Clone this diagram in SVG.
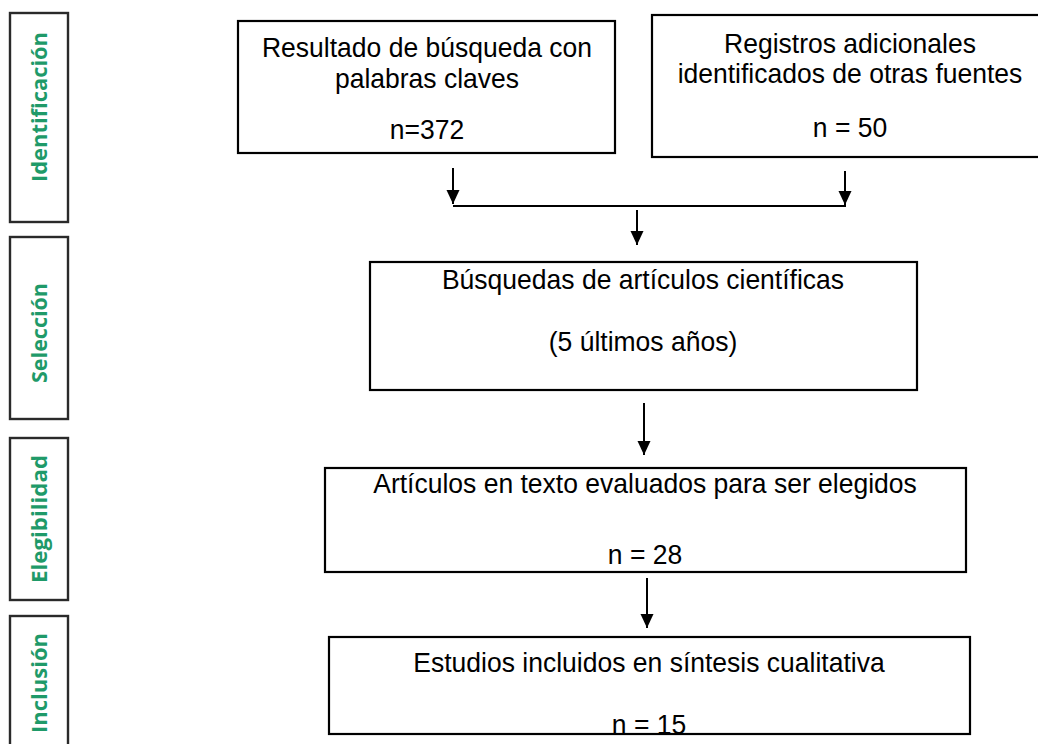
<svg xmlns="http://www.w3.org/2000/svg" width="1038" height="744" viewBox="0 0 1038 744">
<style>
.box{fill:#fff;stroke:#000;stroke-width:2.2}
.lbl{fill:#fff;stroke:#2a2a2a;stroke-width:2.4}
.t{font-family:"Liberation Sans",Arial,sans-serif;font-size:28.5px;fill:#000;text-anchor:middle}
.g{font-family:"Open Sans","DejaVu Sans",sans-serif;font-weight:700;font-size:22px;fill:#1f9a69;text-anchor:middle}
.c{stroke:#000;stroke-width:2;fill:none}
</style>
<defs>
<marker id="ah" markerUnits="userSpaceOnUse" markerWidth="14" markerHeight="14" refX="14" refY="7" orient="auto">
<path d="M0,0.5 L14,7 L0,13.5 z" fill="#000"/>
</marker>
</defs>
<rect width="1038" height="744" fill="#fff"/>
<g id="stage-identificacion">
<rect class="lbl" x="10" y="13" width="58" height="209"/>
<text class="g" transform="translate(47,107) rotate(-90)" textLength="150" lengthAdjust="spacingAndGlyphs">Identificación</text>
</g>
<g id="stage-seleccion">
<rect class="lbl" x="10" y="237" width="58" height="182"/>
<text class="g" transform="translate(47,333) rotate(-90)" textLength="100" lengthAdjust="spacingAndGlyphs">Selección</text>
</g>
<g id="stage-elegibilidad">
<rect class="lbl" x="10" y="438" width="58" height="162"/>
<text class="g" transform="translate(47,519) rotate(-90)" textLength="128" lengthAdjust="spacingAndGlyphs">Elegibilidad</text>
</g>
<g id="stage-inclusion">
<rect class="lbl" x="10" y="616" width="58" height="150"/>
<text class="g" transform="translate(47,683) rotate(-90)" textLength="100" lengthAdjust="spacingAndGlyphs">Inclusión</text>
</g>
<g id="node-busqueda">
<rect class="box" x="238" y="21" width="377" height="132"/>
<g transform="translate(427 0) scale(0.93 1)">
<text class="t" x="0" y="57">Resultado de búsqueda con</text>
<text class="t" x="0" y="88">palabras claves</text>
<text class="t" x="0" y="139">n=372</text>
</g>
</g>
<g id="node-adicionales">
<rect class="box" x="652" y="15" width="400" height="142"/>
<g transform="translate(850 0) scale(0.93 1)">
<text class="t" x="0" y="53">Registros adicionales</text>
<text class="t" x="0" y="83">identificados de otras fuentes</text>
<text class="t" x="0" y="137">n = 50</text>
</g>
</g>
<g id="node-articulos">
<rect class="box" x="370" y="262" width="547" height="128"/>
<g transform="translate(643 0) scale(0.93 1)">
<text class="t" x="0" y="289">Búsquedas de artículos científicas</text>
<text class="t" x="0" y="351">(5 últimos años)</text>
</g>
</g>
<g id="node-evaluados">
<rect class="box" x="325" y="468" width="641" height="104"/>
<g transform="translate(645 0) scale(0.93 1)">
<text class="t" x="0" y="493">Artículos en texto evaluados para ser elegidos</text>
<text class="t" x="0" y="564">n = 28</text>
</g>
</g>
<g id="node-incluidos">
<rect class="box" x="329" y="637" width="641" height="97"/>
<g transform="translate(649 0) scale(0.93 1)">
<text class="t" x="0" y="672">Estudios incluidos en síntesis cualitativa</text>
<text class="t" x="0" y="734">n = 15</text>
</g>
</g>
<g id="connectors">
<line class="c" x1="453" y1="168" x2="453" y2="204" marker-end="url(#ah)"/>
<line class="c" x1="845" y1="171" x2="845" y2="205" marker-end="url(#ah)"/>
<line class="c" x1="453" y1="206" x2="846" y2="206"/>
<line class="c" x1="637" y1="210" x2="637" y2="245" marker-end="url(#ah)"/>
<line class="c" x1="644" y1="403" x2="644" y2="455" marker-end="url(#ah)"/>
<line class="c" x1="647" y1="578" x2="647" y2="628" marker-end="url(#ah)"/>
</g>
</svg>
